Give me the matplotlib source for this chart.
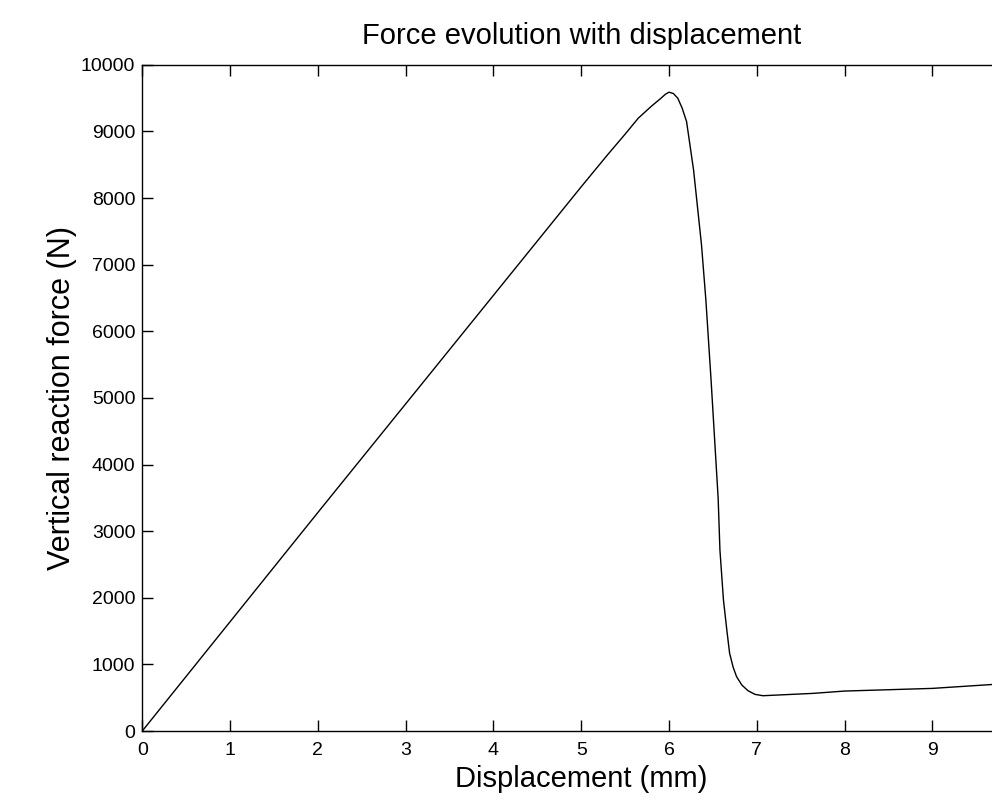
import matplotlib
matplotlib.use('Agg')
import matplotlib.pyplot as plt

plt.rcParams['font.family'] = ['Liberation Sans', 'DejaVu Sans']

# displacement (mm) and vertical reaction force (N)
displacement = [0.0, 1.0, 2.0, 3.0, 4.0, 5.0, 5.3, 5.5, 5.65, 5.8, 5.9, 5.96,
                6.0, 6.05, 6.1, 6.15, 6.2, 6.28, 6.37, 6.42, 6.48, 6.56, 6.58,
                6.62, 6.66, 6.69, 6.73, 6.77, 6.83, 6.9, 6.98, 7.07, 7.64,
                8.0, 9.0, 9.7, 10.0]
force = [0, 1640, 3280, 4910, 6540, 8170, 8650, 8960, 9200, 9380, 9490, 9560,
         9590, 9570, 9500, 9350, 9150, 8420, 7300, 6470, 5250, 3490, 2720,
         1970, 1500, 1170, 960, 815, 690, 605, 550, 530, 565,
         600, 640, 700, 715]

x_ticks = list(range(0, 10))
y_ticks = list(range(0, 10001, 1000))

fig = plt.figure(figsize=(9.92, 8.05), dpi=100)
# axes run a little past the right edge, as in the cropped original
ax = fig.add_axes([0.1434, 0.0919, 0.885, 0.8275])

ax.plot(displacement, force, color='black', linewidth=1.0)

ax.set_xlim(0, 10)
ax.set_ylim(0, 10000)
ax.set_xticks(x_ticks)
ax.set_yticks(y_ticks)
ax.tick_params(direction='in', length=8, width=1, top=True, right=True,
               labelsize=14)
ax.tick_params(axis='x', pad=8)
ax.tick_params(axis='y', pad=5)
for s in ax.spines.values():
    s.set_linewidth(1)

ax.set_title('Force evolution with displacement', fontsize=21, pad=15)
ax.set_xlabel('Displacement (mm)', fontsize=21, labelpad=4)
ax.set_ylabel('Vertical reaction force (N)', fontsize=22, labelpad=3)

fig.savefig('out.png', dpi=100)
